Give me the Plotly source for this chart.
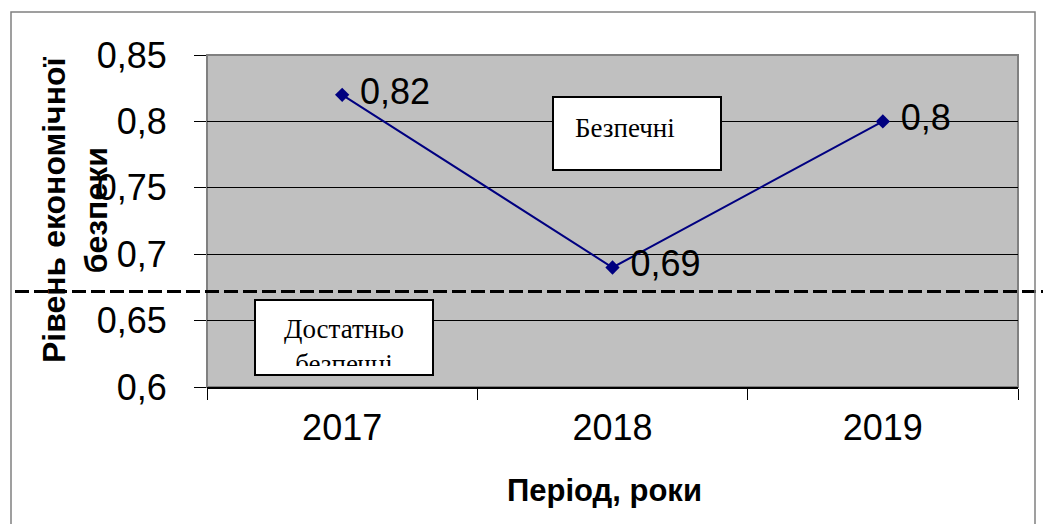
import plotly.graph_objects as go

years = ["2017", "2018", "2019"]
values = [0.82, 0.69, 0.80]
value_labels = ["\u00a00,82", "\u00a00,69", "\u00a00,8"]
threshold = 0.672
y_ticks = [0.6, 0.65, 0.7, 0.75, 0.8, 0.85]
y_tick_labels = ["0,6", "0,65", "0,7", "0,75", "0,8", "0,85"]

W, H = 1043, 524
L, R, T, B = 207, 25, 55, 137
pw = W - L - R
ph = H - T - B

def px_x(x):
    return (x - L) / pw

def px_y(y):
    return (H - B - y) / ph

fig = go.Figure()
fig.add_trace(go.Scatter(
    x=years, y=values, mode="lines+markers+text",
    line=dict(color="#000080", width=2),
    marker=dict(symbol="diamond", size=11, color="#000080"),
    text=value_labels, textposition="middle right",
    textfont=dict(family="Liberation Sans, Arial", size=36, color="black"),
    cliponaxis=False, showlegend=False,
))

shapes = [
    dict(type="line", xref="paper", yref="y", x0=px_x(15), x1=px_x(1043),
         y0=threshold, y1=threshold, line=dict(color="black", width=3, dash="14px,5px")),
    dict(type="rect", xref="paper", yref="paper", x0=0, x1=1, y0=0, y1=1,
         line=dict(color="#808080", width=2), layer="below"),
    dict(type="rect", xref="paper", yref="paper", x0=px_x(11), x1=px_x(1035),
         y0=px_y(540), y1=px_y(12), line=dict(color="#808080", width=1.5)),
    dict(type="rect", xref="paper", yref="paper", x0=px_x(553), x1=px_x(721),
         y0=px_y(170), y1=px_y(97), fillcolor="white", line=dict(color="black", width=2)),
    dict(type="rect", xref="paper", yref="paper", x0=px_x(255), x1=px_x(433),
         y0=px_y(375), y1=px_y(300), fillcolor="white", line=dict(color="black", width=2)),
]

annotations = [
    dict(text="Безпечні", xref="paper", yref="paper", x=px_x(573), y=px_y(128),
         xanchor="left", yanchor="middle", showarrow=False,
         font=dict(family="Liberation Serif, Times New Roman", size=27, color="black")),
    dict(text="Достатньо<br>безпечні", xref="paper", yref="paper", x=px_x(344), y=px_y(312),
         xanchor="center", yanchor="top", showarrow=False, height=52, width=170, valign="top",
         font=dict(family="Liberation Serif, Times New Roman", size=27, color="black")),
    dict(text="<b>Рівень економічної<br>безпеки</b>", xref="paper", yref="paper",
         x=px_x(75), y=px_y(210), xanchor="center", yanchor="middle", textangle=-90,
         showarrow=False, font=dict(family="Liberation Sans, Arial", size=32, color="black")),
    dict(text="<b>Період, роки</b>", xref="paper", yref="paper",
         x=px_x(604), y=px_y(490), xanchor="center", yanchor="middle",
         showarrow=False, font=dict(family="Liberation Sans, Arial", size=31, color="black")),
]

fig.update_layout(
    width=W, height=H,
    margin=dict(l=L, r=R, t=T, b=B, pad=0),
    paper_bgcolor="white", plot_bgcolor="#C0C0C0",
    shapes=shapes, annotations=annotations,
    font=dict(family="Liberation Sans, Arial", color="black"),
    xaxis=dict(type="category", range=[-0.5, 2.5], showgrid=False, tickson="boundaries",
               ticks="outside", ticklen=11, tickcolor="black", tickwidth=1,
               showline=True, linecolor="black", linewidth=2,
               tickfont=dict(size=36), ticklabelstandoff=8, zeroline=False),
    yaxis=dict(range=[0.6, 0.85], tickvals=y_ticks, ticktext=y_tick_labels,
               ticks="outside", ticklen=12, tickcolor="black",
               showgrid=True, gridcolor="black", gridwidth=1,
               showline=False, zeroline=False,
               tickfont=dict(size=36), ticklabelstandoff=20),
)

fig.write_html("out.html", config={"displayModeBar": False},
               post_script="document.body.style.margin='0';")
